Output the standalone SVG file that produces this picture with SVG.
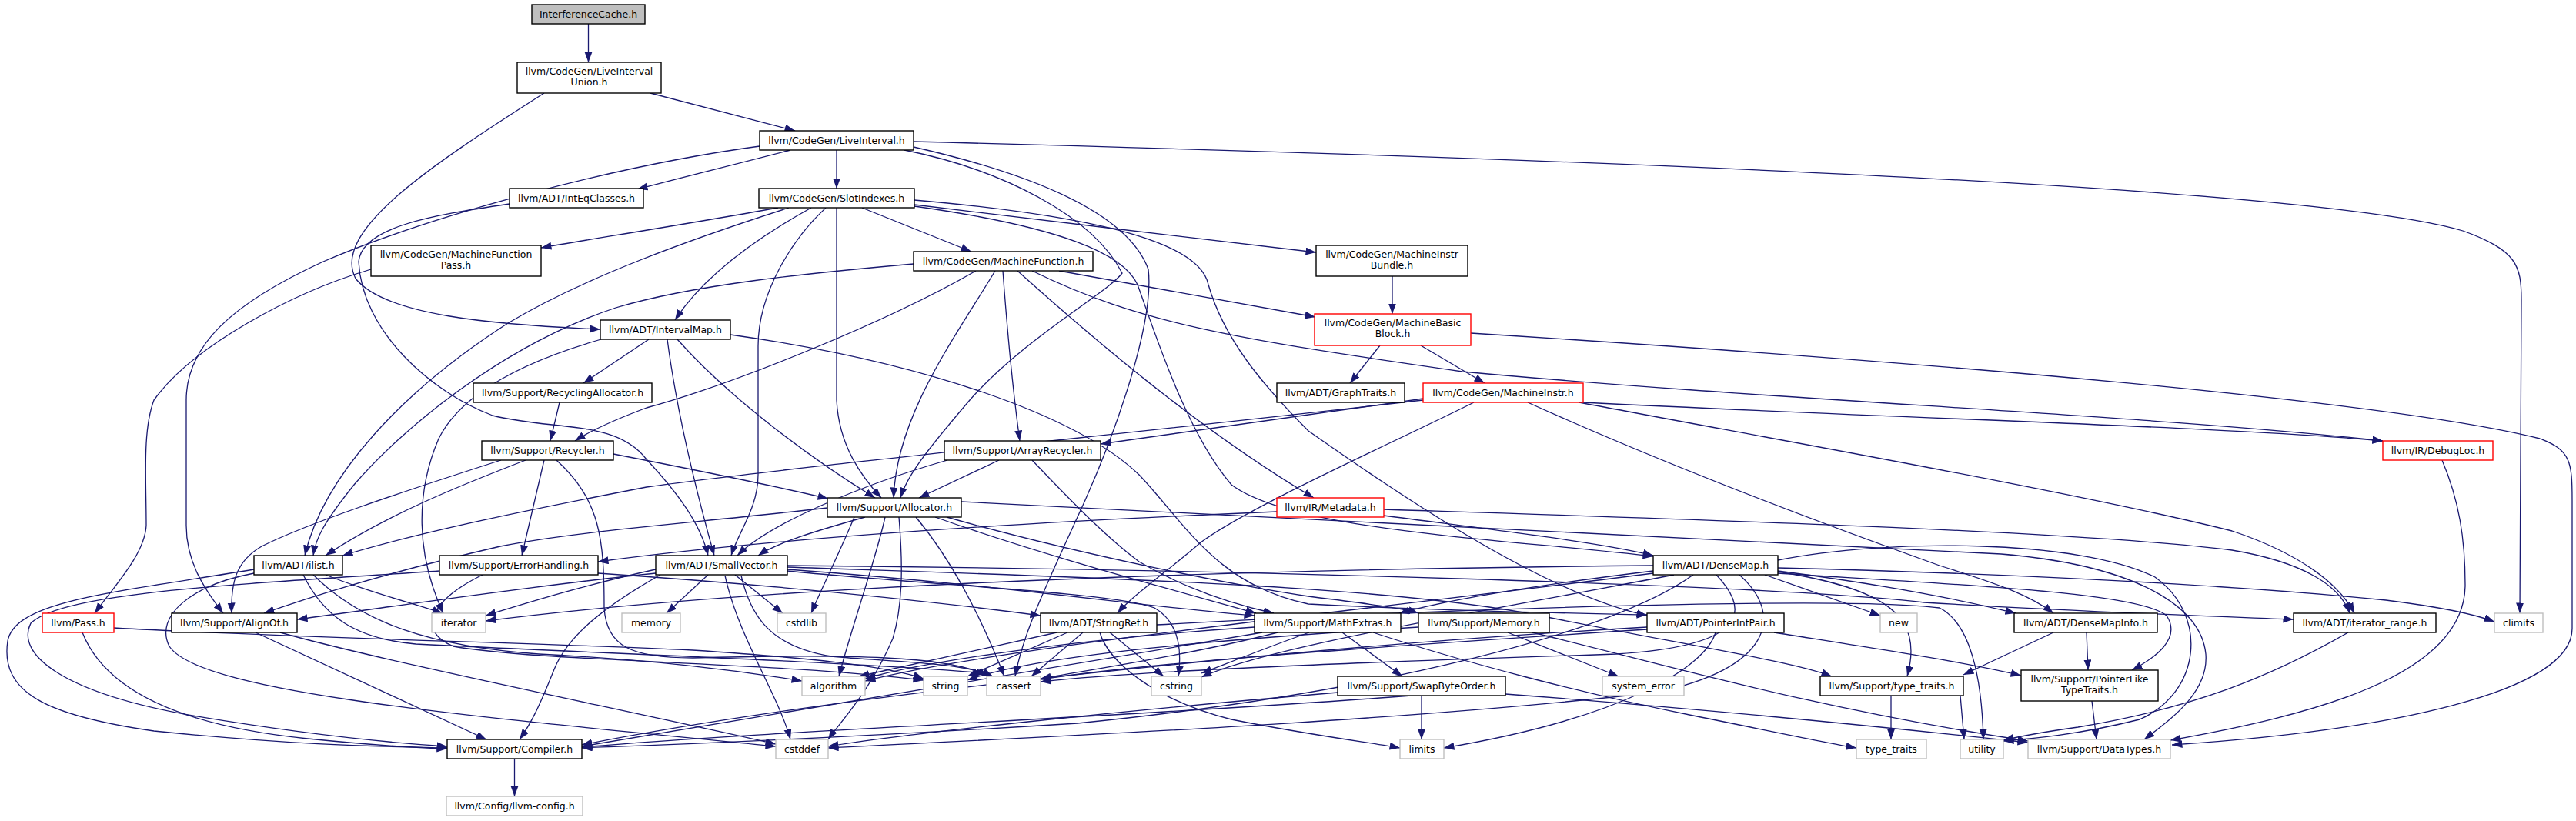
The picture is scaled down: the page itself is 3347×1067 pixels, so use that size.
<svg xmlns="http://www.w3.org/2000/svg" width="3347" height="1067" viewBox="0 0 3347 1067">
<style>
.n rect{fill:#fff;stroke:#000;stroke-width:1.4}
.n.r rect{stroke:#f00}
.n.g rect{stroke:#bfbfbf}
.n.root rect{fill:#bfbfbf}
text{font-family:"DejaVu Sans","Liberation Sans",sans-serif;font-size:12.5px;text-anchor:middle;fill:#000}
#edges path{fill:none;stroke:#191970;stroke-width:1.3;marker-end:url(#a)}
</style>
<defs>
<marker id="a" markerUnits="userSpaceOnUse" markerWidth="15" markerHeight="11" refX="13.5" refY="5" orient="auto"><path d="M0,0L13.5,5L0,10z" fill="#191970"/></marker>
</defs>
<rect width="3347" height="1067" fill="#fff"/>
<g id="edges">
<path d="M764.5,31 L764.5,81"/>
<path d="M845,121 L1033,170"/>
<path d="M707,121 C560,215 430,300 462,362 C500,410 640,422 780,428"/>
<path d="M1027,195 C950,215 880,232 828,246"/>
<path d="M1087,195 L1087,245"/>
<path d="M987,190 C800,215 560,280 420,340 C300,395 242,450 242,520 L242,683 C242,730 265,765 290,797"/>
<path d="M1187,184 C2000,205 3000,240 3200,300 C3270,325 3276,345 3276,390 L3274,797"/>
<path d="M1175,195 C1300,220 1420,280 1458,355 C1440,380 1330,440 1260,520 C1200,590 1178,620 1170,647"/>
<path d="M1187,191 C1380,235 1470,290 1492,350 C1500,420 1450,560 1410,650 C1360,760 1330,820 1319,879"/>
<path d="M662,265 C560,280 470,295 466,340 C470,430 560,510 640,540 C720,560 800,545 840,597 C880,640 910,680 920,722"/>
<path d="M1011,270 C900,290 760,312 703,322"/>
<path d="M1025,270 C900,310 760,360 660,420 C520,510 420,620 396,722"/>
<path d="M1054,270 C1000,300 920,350 877,416"/>
<path d="M1073,270 C1030,310 985,380 985,450 L985,617 C985,660 960,690 950,722"/>
<path d="M1087,270 L1087,520 C1090,580 1120,620 1145,647"/>
<path d="M1120,270 L1262,327"/>
<path d="M1188,266 C1350,285 1550,310 1710,328"/>
<path d="M1188,260 C1450,283 1560,320 1570,370 C1590,440 1640,500 1700,560 C1800,630 2000,770 2140,800"/>
<path d="M1188,268 C1380,295 1460,330 1478,370 C1500,430 1540,560 1600,630 C1680,690 1950,700 2148,723"/>
<path d="M482,350 C380,380 250,450 200,520 C185,560 190,620 190,683 C188,720 150,760 123,797"/>
<path d="M1187,343 C1050,355 900,370 800,400 C650,450 520,560 460,630 C420,680 410,700 407,722"/>
<path d="M1268,352 C1150,420 950,500 840,530 C800,545 770,558 747,573"/>
<path d="M1293,352 C1240,440 1165,540 1161,647"/>
<path d="M1303,352 C1308,420 1315,500 1325,573"/>
<path d="M1322,352 C1420,440 1560,560 1707,647"/>
<path d="M1341,352 C1480,420 1600,440 1900,483 C2300,520 2800,540 3096,573"/>
<path d="M1376,352 L1709,412"/>
<path d="M1809,359 L1809,408"/>
<path d="M843,441 L758,498"/>
<path d="M781,441 C680,470 600,510 570,570 C540,640 540,720 576,797"/>
<path d="M867,441 C880,540 905,640 928,722"/>
<path d="M880,441 C950,520 1060,600 1137,647"/>
<path d="M949,435 C1200,470 1400,540 1480,617 C1540,680 1580,760 1700,785 C1900,795 2050,797 2140,799"/>
<path d="M1793,449 L1754,498"/>
<path d="M1846,449 L1929,498"/>
<path d="M1911,433 C2500,470 3100,520 3300,570 C3340,585 3342,600 3342,650 L3342,817 C3342,900 3100,950 2822,968"/>
<path d="M727,523 L715,573"/>
<path d="M1849,520 C1500,560 1000,610 840,633 C700,660 550,690 445,722"/>
<path d="M1849,518 C1700,540 1550,560 1430,577"/>
<path d="M1915,523 C1800,580 1620,660 1560,705 C1520,740 1470,775 1452,797"/>
<path d="M2057,523 C2500,545 2900,555 3096,573"/>
<path d="M2052,523 C2300,570 2700,640 2900,690 C2990,720 3040,760 3059,797"/>
<path d="M1985,523 C2200,620 2450,710 2520,735 C2600,760 2640,775 2668,797"/>
<path d="M651,598 C520,640 400,680 340,710 C305,730 300,760 301,797"/>
<path d="M683,598 C600,630 500,670 423,722"/>
<path d="M707,598 L678,722"/>
<path d="M723,598 C780,650 785,700 785,790 C788,840 820,855 900,855 C1100,850 1240,852 1283,879"/>
<path d="M797,590 C900,610 1000,630 1076,648"/>
<path d="M1231,598 C1120,630 1000,680 958,722"/>
<path d="M1298,598 L1194,647"/>
<path d="M1341,598 C1400,660 1440,700 1480,730 C1540,765 1600,785 1655,797"/>
<path d="M1075,660 C900,680 750,690 650,710 C520,740 420,770 343,797"/>
<path d="M1124,672 C1060,690 1010,705 985,722"/>
<path d="M1110,672 C1090,720 1065,770 1054,797"/>
<path d="M1150,672 C1140,720 1105,820 1090,879"/>
<path d="M1168,672 C1172,720 1175,780 1160,830 C1130,900 1090,940 1076,961"/>
<path d="M1190,672 C1230,720 1270,790 1305,879"/>
<path d="M1215,672 C1350,720 1500,760 1632,797"/>
<path d="M1230,672 C1400,720 1600,760 1700,775 C1780,785 1820,790 1843,797"/>
<path d="M1249,652 C1700,675 2300,705 2600,720 C2780,735 2860,790 2866,850 C2870,900 2820,935 2786,961"/>
<path d="M852,745 C700,760 500,790 386,805"/>
<path d="M852,740 C760,760 680,785 631,800"/>
<path d="M858,747 C800,780 740,820 720,870 C700,920 690,940 675,961"/>
<path d="M920,747 L866,797"/>
<path d="M955,747 L1017,797"/>
<path d="M942,748 C960,830 1010,900 1027,961"/>
<path d="M963,748 C975,800 1000,840 1080,853 C1150,860 1250,860 1290,879"/>
<path d="M1023,740 C1300,760 1500,790 1630,800"/>
<path d="M1023,742 C1200,760 1450,770 1500,790 C1535,810 1535,850 1531,879"/>
<path d="M1023,737 C1400,750 1800,760 2000,800 C2200,840 2330,860 2380,879"/>
<path d="M1023,735 C1600,740 2300,760 2500,783 C2700,795 2850,800 2980,805"/>
<path d="M330,740 C150,770 20,780 10,833 C0,900 60,930 200,950 C400,970 500,970 581,972"/>
<path d="M330,745 C250,760 200,800 220,840 C260,900 600,930 1008,970"/>
<path d="M394,747 C420,800 460,830 540,837 C800,850 1100,860 1282,875"/>
<path d="M407,747 C470,810 560,840 700,850 C850,858 950,870 1042,885"/>
<path d="M423,747 C480,770 540,785 575,797"/>
<path d="M107,822 C130,880 200,940 400,960 C500,970 550,972 581,973"/>
<path d="M148,816 C400,830 700,835 900,845 C1050,855 1150,865 1200,882"/>
<path d="M332,822 L632,961"/>
<path d="M364,822 C500,860 800,920 1008,967"/>
<path d="M571,742 C300,760 80,770 40,810 C20,850 80,900 250,930 C400,955 500,965 581,970"/>
<path d="M777,745 C1000,760 1200,780 1352,800"/>
<path d="M627,747 C560,780 540,820 589,840 C700,860 1000,860 1200,884"/>
<path d="M1373,822 L1116,879"/>
<path d="M1387,822 L1257,879"/>
<path d="M1407,822 L1340,879"/>
<path d="M1442,822 L1512,879"/>
<path d="M1429,822 C1440,860 1500,910 1600,935 C1700,955 1780,965 1819,972"/>
<path d="M1503,812 C1900,790 2400,775 2520,790 C2560,810 2575,880 2577,961"/>
<path d="M1744,822 L1822,879"/>
<path d="M1784,822 C1900,860 2050,900 2200,930 C2300,950 2370,965 2412,972"/>
<path d="M1701,822 C1650,840 1600,860 1561,875"/>
<path d="M1660,822 C1550,850 1420,870 1352,882"/>
<path d="M1640,822 C1300,880 1000,930 756,970"/>
<path d="M1630,815 C1400,830 1200,860 1124,882"/>
<path d="M1959,822 L2103,879"/>
<path d="M1991,822 C2150,860 2350,920 2635,963"/>
<path d="M1843,815 C1600,830 1350,850 1257,884"/>
<path d="M2229,822 C2216,867 2109,933 1876,972"/>
<path d="M2305,822 C2450,845 2550,860 2626,878"/>
<path d="M2140,815 C1700,840 1100,900 756,968"/>
<path d="M2140,818 C1800,840 1500,860 1352,883"/>
<path d="M1847,904 L1847,961"/>
<path d="M1834,904 C1500,930 1000,950 756,971"/>
<path d="M1956,902 C2200,920 2450,945 2635,965"/>
<path d="M1738,900 C1500,920 1200,950 1076,970"/>
<path d="M2457,904 L2457,961"/>
<path d="M2547,904 L2552,961"/>
<path d="M2668,822 L2551,877"/>
<path d="M2711,822 L2713,871"/>
<path d="M2718,911 L2724,961"/>
<path d="M3051,822 C2950,880 2850,920 2700,945 C2650,952 2620,958 2603,962"/>
<path d="M3173,598 C3195,650 3203,700 3203,760 C3203,880 3000,930 2820,962"/>
<path d="M668.5,986 L668.5,1035"/>
<path d="M2310,742 C2450,760 2550,780 2619,797"/>
<path d="M2310,738 C2600,745 2900,760 3100,780 C3180,790 3220,800 3241,808"/>
<path d="M2293,747 L2443,800"/>
<path d="M2310,743 C2450,765 2500,800 2478,879"/>
<path d="M2310,745 C2550,760 2780,770 2815,800 C2835,830 2800,855 2770,871"/>
<path d="M2310,728 C2450,700 2700,700 2800,750 C2870,800 2860,900 2780,935 C2700,955 2640,960 2603,963"/>
<path d="M2148,742 C2000,760 1880,780 1818,797"/>
<path d="M2148,735 C1600,740 1000,760 631,807"/>
<path d="M2200,747 C2100,820 1800,900 1400,940 C1000,965 800,970 756,972"/>
<path d="M2148,745 C1800,790 1300,840 1124,885"/>
<path d="M2230,747 C2280,800 2260,840 2100,850 C1800,860 1500,870 1352,886"/>
<path d="M2260,747 C2320,800 2300,870 2150,900 C1800,940 1300,960 1076,972"/>
<path d="M2175,747 C1900,800 1650,840 1561,880"/>
<path d="M1659,665 C1300,680 1000,700 777,730"/>
<path d="M1798,670 C1950,690 2080,705 2148,722"/>
<path d="M1798,662 C2200,675 2700,690 2900,715 C2990,730 3040,760 3053,797"/>
</g>
<g id="n0" class="n root"><rect x="691" y="6" width="147" height="25"/><text x="764.5" y="23">InterferenceCache.h</text></g>
<g id="n1" class="n"><rect x="672" y="81" width="187" height="40"/><text x="765.5" y="97">llvm/CodeGen/LiveInterval</text><text x="765.5" y="111">Union.h</text></g>
<g id="n2" class="n"><rect x="987" y="170" width="200" height="25"/><text x="1087" y="187">llvm/CodeGen/LiveInterval.h</text></g>
<g id="n3" class="n"><rect x="662" y="245" width="174" height="25"/><text x="749" y="262">llvm/ADT/IntEqClasses.h</text></g>
<g id="n4" class="n"><rect x="986" y="245" width="202" height="25"/><text x="1087" y="262">llvm/CodeGen/SlotIndexes.h</text></g>
<g id="n5" class="n"><rect x="482" y="319" width="221" height="40"/><text x="592.5" y="335">llvm/CodeGen/MachineFunction</text><text x="592.5" y="349">Pass.h</text></g>
<g id="n6" class="n"><rect x="1187" y="327" width="233" height="25"/><text x="1303.5" y="344">llvm/CodeGen/MachineFunction.h</text></g>
<g id="n7" class="n"><rect x="1710" y="319" width="197" height="40"/><text x="1808.5" y="335">llvm/CodeGen/MachineInstr</text><text x="1808.5" y="349">Bundle.h</text></g>
<g id="n8" class="n"><rect x="780" y="416" width="169" height="25"/><text x="864.5" y="433">llvm/ADT/IntervalMap.h</text></g>
<g id="n9" class="n r"><rect x="1708" y="408" width="203" height="41"/><text x="1809.5" y="424">llvm/CodeGen/MachineBasic</text><text x="1809.5" y="438">Block.h</text></g>
<g id="n10" class="n"><rect x="615" y="498" width="232" height="25"/><text x="731" y="515">llvm/Support/RecyclingAllocator.h</text></g>
<g id="n11" class="n"><rect x="1659" y="498" width="166" height="25"/><text x="1742" y="515">llvm/ADT/GraphTraits.h</text></g>
<g id="n12" class="n r"><rect x="1849" y="498" width="208" height="25"/><text x="1953" y="515">llvm/CodeGen/MachineInstr.h</text></g>
<g id="n13" class="n"><rect x="626" y="573" width="171" height="25"/><text x="711.5" y="590">llvm/Support/Recycler.h</text></g>
<g id="n14" class="n"><rect x="1227" y="573" width="203" height="25"/><text x="1328.5" y="590">llvm/Support/ArrayRecycler.h</text></g>
<g id="n15" class="n r"><rect x="3096" y="573" width="143" height="25"/><text x="3167.5" y="590">llvm/IR/DebugLoc.h</text></g>
<g id="n16" class="n"><rect x="1075" y="647" width="174" height="25"/><text x="1162" y="664">llvm/Support/Allocator.h</text></g>
<g id="n17" class="n r"><rect x="1659" y="647" width="139" height="25"/><text x="1728.5" y="664">llvm/IR/Metadata.h</text></g>
<g id="n18" class="n"><rect x="330" y="722" width="115" height="25"/><text x="387.5" y="739">llvm/ADT/ilist.h</text></g>
<g id="n19" class="n"><rect x="571" y="722" width="206" height="25"/><text x="674" y="739">llvm/Support/ErrorHandling.h</text></g>
<g id="n20" class="n"><rect x="852" y="722" width="171" height="25"/><text x="937.5" y="739">llvm/ADT/SmallVector.h</text></g>
<g id="n21" class="n"><rect x="2148" y="722" width="162" height="25"/><text x="2229" y="739">llvm/ADT/DenseMap.h</text></g>
<g id="n22" class="n r"><rect x="55" y="797" width="93" height="25"/><text x="101.5" y="814">llvm/Pass.h</text></g>
<g id="n23" class="n"><rect x="223" y="797" width="163" height="25"/><text x="304.5" y="814">llvm/Support/AlignOf.h</text></g>
<g id="n24" class="n g"><rect x="561" y="797" width="70" height="25"/><text x="596" y="814">iterator</text></g>
<g id="n25" class="n g"><rect x="808" y="797" width="76" height="25"/><text x="846" y="814">memory</text></g>
<g id="n26" class="n g"><rect x="1010" y="797" width="63" height="25"/><text x="1041.5" y="814">cstdlib</text></g>
<g id="n27" class="n"><rect x="1352" y="797" width="151" height="25"/><text x="1427.5" y="814">llvm/ADT/StringRef.h</text></g>
<g id="n28" class="n"><rect x="1630" y="797" width="190" height="25"/><text x="1725" y="814">llvm/Support/MathExtras.h</text></g>
<g id="n29" class="n"><rect x="1843" y="797" width="170" height="25"/><text x="1928" y="814">llvm/Support/Memory.h</text></g>
<g id="n30" class="n"><rect x="2140" y="797" width="178" height="25"/><text x="2229" y="814">llvm/ADT/PointerIntPair.h</text></g>
<g id="n31" class="n g"><rect x="2443" y="797" width="48" height="25"/><text x="2467" y="814">new</text></g>
<g id="n32" class="n"><rect x="2617" y="797" width="186" height="25"/><text x="2710" y="814">llvm/ADT/DenseMapInfo.h</text></g>
<g id="n33" class="n"><rect x="2980" y="797" width="185" height="25"/><text x="3072.5" y="814">llvm/ADT/iterator_range.h</text></g>
<g id="n34" class="n g"><rect x="3241" y="797" width="63" height="25"/><text x="3272.5" y="814">climits</text></g>
<g id="n35" class="n g"><rect x="1042" y="879" width="82" height="25"/><text x="1083" y="896">algorithm</text></g>
<g id="n36" class="n g"><rect x="1200" y="879" width="57" height="25"/><text x="1228.5" y="896">string</text></g>
<g id="n37" class="n g"><rect x="1282" y="879" width="70" height="25"/><text x="1317" y="896">cassert</text></g>
<g id="n38" class="n g"><rect x="1496" y="879" width="65" height="25"/><text x="1528.5" y="896">cstring</text></g>
<g id="n39" class="n"><rect x="1738" y="879" width="218" height="25"/><text x="1847" y="896">llvm/Support/SwapByteOrder.h</text></g>
<g id="n40" class="n g"><rect x="2082" y="879" width="106" height="25"/><text x="2135" y="896">system_error</text></g>
<g id="n41" class="n"><rect x="2365" y="879" width="186" height="25"/><text x="2458" y="896">llvm/Support/type_traits.h</text></g>
<g id="n42" class="n"><rect x="2626" y="871" width="178" height="40"/><text x="2715" y="887">llvm/Support/PointerLike</text><text x="2715" y="901">TypeTraits.h</text></g>
<g id="n43" class="n"><rect x="581" y="961" width="175" height="25"/><text x="668.5" y="978">llvm/Support/Compiler.h</text></g>
<g id="n44" class="n g"><rect x="1008" y="961" width="68" height="25"/><text x="1042" y="978">cstddef</text></g>
<g id="n45" class="n g"><rect x="1819" y="961" width="57" height="25"/><text x="1847.5" y="978">limits</text></g>
<g id="n46" class="n g"><rect x="2412" y="961" width="91" height="25"/><text x="2457.5" y="978">type_traits</text></g>
<g id="n47" class="n g"><rect x="2547" y="961" width="56" height="25"/><text x="2575" y="978">utility</text></g>
<g id="n48" class="n g"><rect x="2635" y="961" width="185" height="25"/><text x="2727.5" y="978">llvm/Support/DataTypes.h</text></g>
<g id="n49" class="n g"><rect x="580" y="1035" width="177" height="25"/><text x="668.5" y="1052">llvm/Config/llvm-config.h</text></g>
</svg>
